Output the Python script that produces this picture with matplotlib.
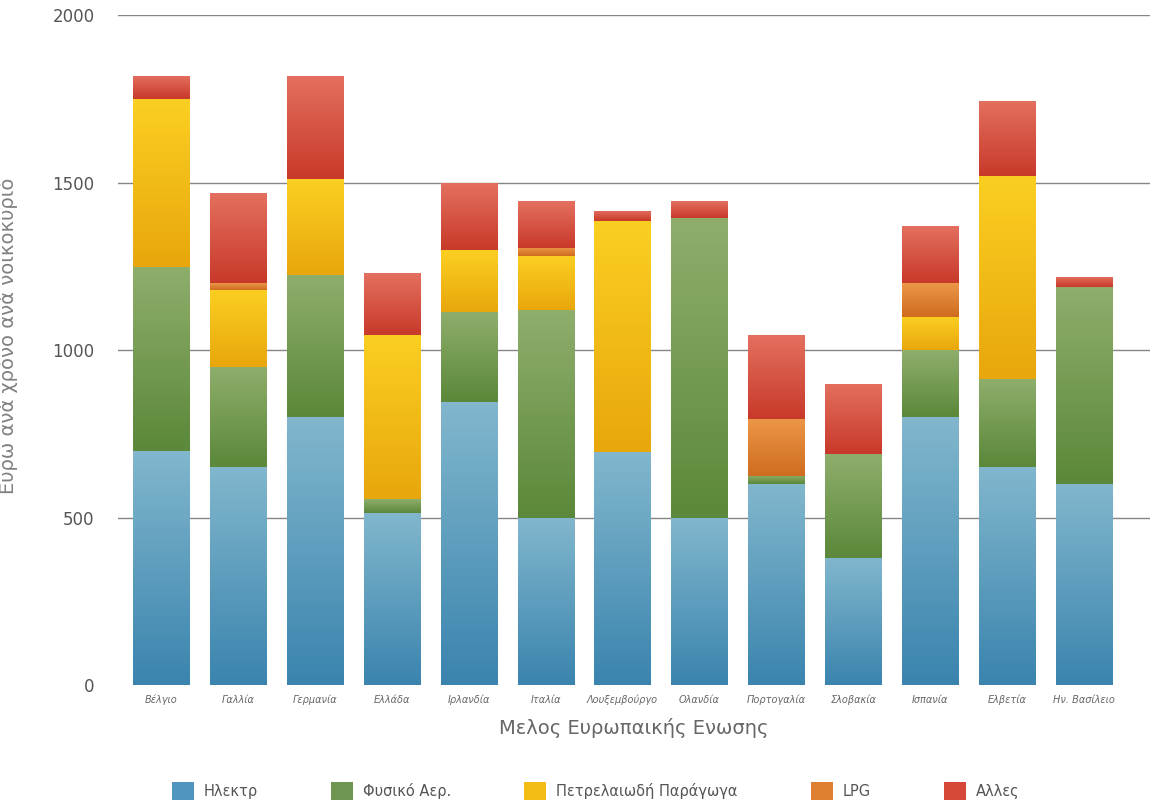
import numpy as np
import matplotlib
matplotlib.use('Agg')
import matplotlib.pyplot as plt
from matplotlib.colors import LinearSegmentedColormap
from matplotlib.patches import Patch

# Χώρες (άξονας x)
countries = ['Βέλγιο', 'Γαλλία', 'Γερμανία', 'Ελλάδα', 'Ιρλανδία', 'Ιταλία',
             'Λουξεμβούργο', 'Ολανδία', 'Πορτογαλία', 'Σλοβακία', 'Ισπανία',
             'Ελβετία', 'Ην. Βασίλειο']

# Τιμές ανά κατηγορία (ευρώ ανά χρόνο ανά νοικοκυριό)
elec = [700, 650, 800, 515, 845, 500, 695, 500, 600, 380, 800, 652, 600]
gas = [550, 300, 425, 40, 270, 620, 0, 895, 25, 310, 200, 263, 590]
oil = [500, 230, 285, 490, 185, 160, 690, 0, 0, 0, 100, 605, 0]
lpg = [0, 20, 0, 0, 0, 25, 0, 0, 170, 0, 100, 0, 0]
other = [70, 270, 310, 185, 200, 140, 30, 50, 250, 210, 170, 225, 30]

series = [
    ('Ηλεκτρ', elec, '#82b7cd', '#3a84ae'),
    ('Φυσικό Αερ.', gas, '#8fae6c', '#5b883a'),
    ('Πετρελαιωδή Παράγωγα', oil, '#fbcf22', '#e8a70c'),
    ('LPG', lpg, '#ec9648', '#cf6c1f'),
    ('Αλλες', other, '#e4705f', '#c8392a'),
]
legend_colors = ['#4f95c0', '#6e9650', '#f3bc14', '#de8030', '#d6493a']

fig = plt.figure(figsize=(11.57, 8.07), dpi=100)
ax = fig.add_axes([0.102, 0.151, 0.892, 0.830])

x = np.arange(len(countries))
width = 0.73
bottom = np.zeros(len(countries))
grad = np.linspace(1, 0, 256).reshape(-1, 1)

for label, vals, top_c, bot_c in series:
    vals = np.array(vals, dtype=float)
    bars = ax.bar(x, vals, width, bottom=bottom, color=top_c, linewidth=0, zorder=2)
    cmap = LinearSegmentedColormap.from_list(label, [bot_c, top_c])
    # κάθετη διαβάθμιση μέσα σε κάθε τμήμα
    for p, v in zip(bars.patches, vals):
        if v <= 0:
            p.set_visible(False)
            continue
        x0, y0 = p.get_x(), p.get_y()
        im = ax.imshow(grad, cmap=cmap, aspect='auto', zorder=3,
                       extent=[x0, x0 + p.get_width(), y0, y0 + p.get_height()],
                       interpolation='bilinear')
        im.set_clip_path(p)
    bottom += vals

for yv in [500, 1000, 1500, 2000]:
    ax.axhline(yv, color='#858585', linewidth=1.0, zorder=1)

ax.set_xlim(-0.56, 12.86)
ax.set_ylim(0, 2000)
ax.set_yticks([0, 500, 1000, 1500, 2000])
ax.set_xticks(x)
ax.set_xticklabels(countries, fontsize=7, style='italic', color='#666666')
ax.tick_params(axis='y', length=0, pad=17, labelsize=12, labelcolor='#555555')
ax.tick_params(axis='x', length=0, pad=7)
for s in ax.spines.values():
    s.set_visible(False)

ax.set_xlabel('Μελος Ευρωπαικής Ενωσης', fontsize=14, color='#666666', labelpad=9)
ax.set_ylabel('Ευρω ανά χρόνο ανά νοικοκυριό', fontsize=14, color='#808080')
ax.yaxis.set_label_coords(-0.097, 0.522)

handles = [Patch(facecolor=c, edgecolor='none', label=s[0])
           for s, c in zip(series, legend_colors)]
fig.legend(handles=handles, loc='center', bbox_to_anchor=(0.515, 0.02), ncol=5,
           frameon=False, fontsize=10.5, handlelength=1.5, handleheight=1.5,
           handletextpad=0.7, columnspacing=5.0, labelcolor='#555555')

fig.savefig('out.png', dpi=100, facecolor='white')
